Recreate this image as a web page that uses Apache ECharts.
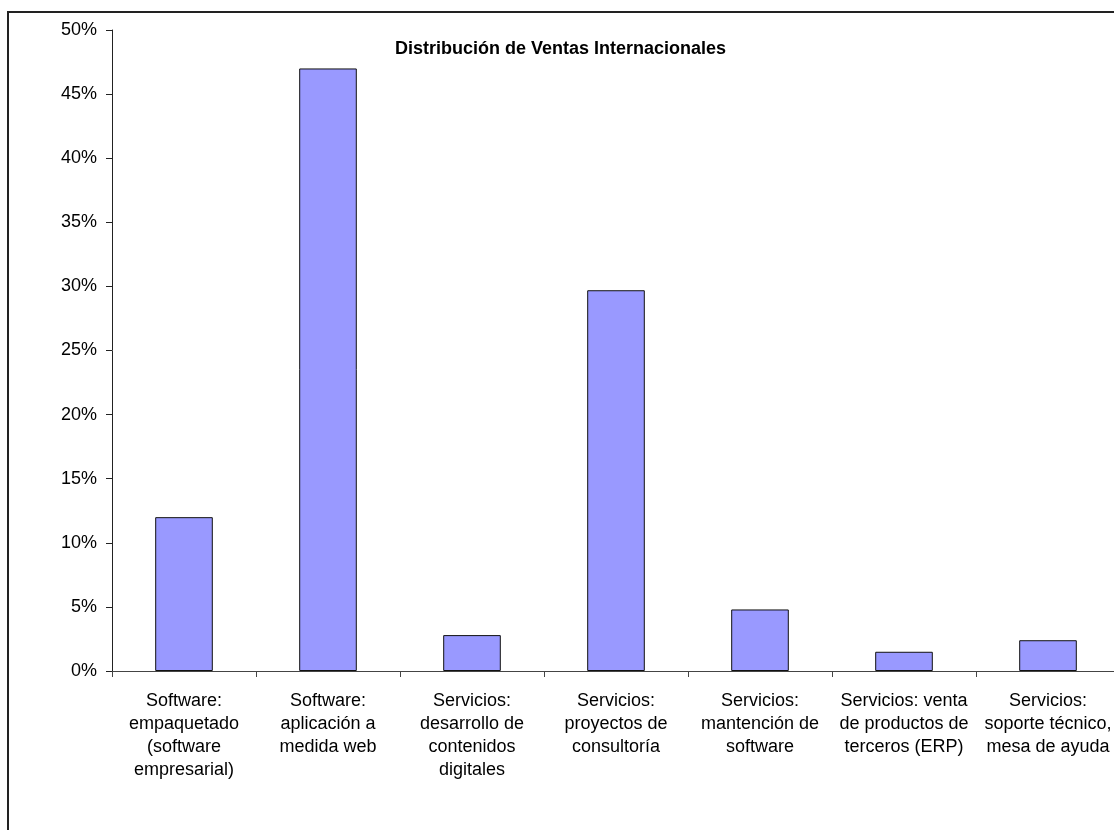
<!DOCTYPE html>
<html>
<head>
<meta charset="utf-8">
<script src="https://cdn.jsdelivr.net/npm/echarts@6/dist/echarts.min.js"></script>
<style>
  html, body { margin: 0; padding: 0; background: #fff; overflow: hidden; }
  #chart { width: 1120px; height: 830px; }
</style>
</head>
<body>
<div id="chart"></div>
<script>
// categories (wrapped like the original)
const categories = [
  'Software:\nempaquetado\n(software\nempresarial)',
  'Software:\naplicación a\nmedida web',
  'Servicios:\ndesarrollo de\ncontenidos\ndigitales',
  'Servicios:\nproyectos de\nconsultoría',
  'Servicios:\nmantención de\nsoftware',
  'Servicios: venta\nde productos de\nterceros (ERP)',
  'Servicios:\nsoporte técnico,\nmesa de ayuda'
]
// share of international sales, in %
const shares = [12.0, 47.0, 2.8, 29.7, 4.8, 1.5, 2.4]

const chart = echarts.init(document.getElementById('chart'))

const option = {
  animation: false,
  textStyle: { fontFamily: 'Liberation Sans, Arial, sans-serif' },
  title: {
    text: 'Distribución de Ventas Internacionales',
    left: 390,
    top: 35,
    textStyle: { fontSize: 18, fontWeight: 'bold', color: '#000' }
  },
  graphic: [
    {
      type: 'rect',
      shape: { x: 8, y: 12, width: 1300, height: 1000 },
      style: { fill: 'none', stroke: '#222', lineWidth: 2 },
      silent: true
    }
  ],
  grid: { left: 112, right: 0, top: 30, bottom: 159 },
  xAxis: {
    type: 'category',
    data: categories,
    axisLine: { lineStyle: { color: '#444', width: 1 } },
    axisTick: { show: true, length: 6, lineStyle: { color: '#444' } },
    axisLabel: {
      interval: 0,
      margin: 19,
      fontSize: 18,
      lineHeight: 23,
      color: '#000'
    }
  },
  yAxis: {
    type: 'value',
    min: 0,
    max: 50,
    interval: 5,
    axisLine: { show: true, lineStyle: { color: '#222', width: 1 } },
    axisTick: { show: true, length: 6, lineStyle: { color: '#222' } },
    splitLine: { show: false },
    axisLabel: {
      formatter: '{value}%',
      margin: 15,
      fontSize: 18,
      color: '#000'
    }
  },
  series: [
    {
      type: 'bar',
      data: shares,
      barWidth: '40%',
      itemStyle: { color: '#9999FF', borderColor: '#111', borderWidth: 1 }
    }
  ]
}

chart.setOption(option)
</script>
</body>
</html>
